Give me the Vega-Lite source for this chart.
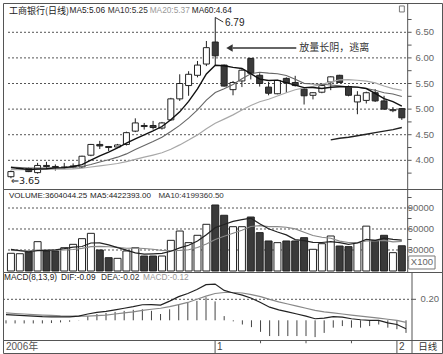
{
"$schema": "https://vega.github.io/schema/vega-lite/v6.json",
"padding": {"left": 2, "top": 2, "right": 0, "bottom": 0},
"background": "white",
"spacing": 0,
"bounds": "flush",
"config": {"view": {"stroke": "#555", "strokeWidth": 1}, "font": "Liberation Sans"},
"datasets": {"k": [
{"i":0,"o":3.68,"h":3.80,"l":3.65,"c":3.78,"v":25300,"m5":3.86,"m10":3.87,"m20":3.818,"m60":null,"vm5":31000,"vm10":29530,"dif":0.055,"dea":0.07,"macd":-0.03},
{"i":1,"o":3.83,"h":3.86,"l":3.82,"c":3.84,"v":24700,"m5":3.84,"m10":3.86,"m20":3.819,"m60":null,"vm5":29000,"vm10":29000,"dif":0.05,"dea":0.065,"macd":-0.03},
{"i":2,"o":3.84,"h":3.86,"l":3.77,"c":3.78,"v":27100,"m5":3.82,"m10":3.85,"m20":3.817,"m60":null,"vm5":27500,"vm10":28710,"dif":0.045,"dea":0.06,"macd":-0.03},
{"i":3,"o":3.76,"h":3.95,"l":3.74,"c":3.90,"v":41900,"m5":3.83,"m10":3.85,"m20":3.821,"m60":null,"vm5":29000,"vm10":29900,"dif":0.04,"dea":0.055,"macd":-0.03},
{"i":4,"o":3.90,"h":3.97,"l":3.83,"c":3.88,"v":28600,"m5":3.836,"m10":3.85,"m20":3.824,"m60":null,"vm5":29520,"vm10":29760,"dif":0.035,"dea":0.05,"macd":-0.03},
{"i":5,"o":3.88,"h":3.92,"l":3.80,"c":3.86,"v":28600,"m5":3.852,"m10":3.85,"m20":3.826,"m60":null,"vm5":30180,"vm10":29620,"dif":0.033,"dea":0.046,"macd":-0.026},
{"i":6,"o":3.86,"h":3.95,"l":3.84,"c":3.87,"v":33300,"m5":3.858,"m10":3.85,"m20":3.829,"m60":null,"vm5":31900,"vm10":29950,"dif":0.032,"dea":0.042,"macd":-0.02},
{"i":7,"o":3.87,"h":3.94,"l":3.84,"c":3.89,"v":38100,"m5":3.88,"m10":3.86,"m20":3.832,"m60":null,"vm5":34100,"vm10":30760,"dif":0.033,"dea":0.04,"macd":-0.014},
{"i":8,"o":3.87,"h":4.09,"l":3.85,"c":4.08,"v":46200,"m5":3.916,"m10":3.88,"m20":3.845,"m60":null,"vm5":34960,"vm10":32380,"dif":0.04,"dea":0.039,"macd":0.002},
{"i":9,"o":4.10,"h":4.32,"l":4.08,"c":4.31,"v":53800,"m5":4.002,"m10":3.919,"m20":3.870,"m60":null,"vm5":40000,"vm10":34760,"dif":0.06,"dea":0.04,"macd":0.04},
{"i":10,"o":4.31,"h":4.38,"l":4.22,"c":4.28,"v":30000,"m5":4.086,"m10":3.969,"m20":3.893,"m60":null,"vm5":40280,"vm10":35230,"dif":0.075,"dea":0.045,"macd":0.06},
{"i":11,"o":4.27,"h":4.28,"l":4.18,"c":4.25,"v":19000,"m5":4.162,"m10":4.010,"m20":3.914,"m60":null,"vm5":37420,"vm10":34660,"dif":0.085,"dea":0.05,"macd":0.07},
{"i":12,"o":4.26,"h":4.32,"l":4.24,"c":4.30,"v":18100,"m5":4.244,"m10":4.062,"m20":3.938,"m60":null,"vm5":33420,"vm10":33760,"dif":0.1,"dea":0.06,"macd":0.08},
{"i":13,"o":4.31,"h":4.56,"l":4.29,"c":4.54,"v":28600,"m5":4.336,"m10":4.126,"m20":3.974,"m60":null,"vm5":29900,"vm10":32430,"dif":0.115,"dea":0.07,"macd":0.09},
{"i":14,"o":4.57,"h":4.82,"l":4.55,"c":4.73,"v":33300,"m5":4.42,"m10":4.211,"m20":4.020,"m60":null,"vm5":25800,"vm10":32900,"dif":0.13,"dea":0.08,"macd":0.10},
{"i":15,"o":4.68,"h":4.73,"l":4.60,"c":4.66,"v":21400,"m5":4.496,"m10":4.291,"m20":4.062,"m60":null,"vm5":24080,"vm10":32180,"dif":0.148,"dea":0.095,"macd":0.105},
{"i":16,"o":4.68,"h":4.77,"l":4.60,"c":4.64,"v":21400,"m5":4.574,"m10":4.368,"m20":4.103,"m60":null,"vm5":24560,"vm10":30990,"dif":0.15,"dea":0.105,"macd":0.09},
{"i":17,"o":4.63,"h":4.75,"l":4.60,"c":4.73,"v":21400,"m5":4.66,"m10":4.452,"m20":4.148,"m60":null,"vm5":25220,"vm10":29320,"dif":0.145,"dea":0.115,"macd":0.06},
{"i":18,"o":4.79,"h":5.22,"l":4.77,"c":5.20,"v":43800,"m5":4.792,"m10":4.564,"m20":4.217,"m60":null,"vm5":28260,"vm10":29080,"dif":0.183,"dea":0.13,"macd":0.105},
{"i":19,"o":5.20,"h":5.68,"l":5.16,"c":5.50,"v":57100,"m5":4.946,"m10":4.683,"m20":4.301,"m60":null,"vm5":33020,"vm10":29410,"dif":0.225,"dea":0.15,"macd":0.15},
{"i":20,"o":5.46,"h":5.74,"l":5.26,"c":5.68,"v":40500,"m5":5.15,"m10":4.823,"m20":4.396,"m60":null,"vm5":36840,"vm10":30460,"dif":0.255,"dea":0.17,"macd":0.17},
{"i":21,"o":5.66,"h":5.94,"l":5.62,"c":5.86,"v":51000,"m5":5.394,"m10":4.984,"m20":4.497,"m60":null,"vm5":42760,"vm10":33660,"dif":0.293,"dea":0.2,"macd":0.185},
{"i":22,"o":5.88,"h":6.33,"l":5.84,"c":6.20,"v":66700,"m5":5.688,"m10":5.174,"m20":4.618,"m60":null,"vm5":51820,"vm10":38520,"dif":0.34,"dea":0.23,"macd":0.22},
{"i":23,"o":6.31,"h":6.79,"l":5.86,"c":6.04,"v":94300,"m5":5.856,"m10":5.324,"m20":4.725,"m60":null,"vm5":61920,"vm10":45090,"dif":0.345,"dea":0.255,"macd":0.18},
{"i":24,"o":5.86,"h":5.87,"l":5.44,"c":5.45,"v":79600,"m5":5.846,"m10":5.396,"m20":4.804,"m60":null,"vm5":66420,"vm10":49720,"dif":0.285,"dea":0.265,"macd":0.04},
{"i":25,"o":5.38,"h":5.55,"l":5.27,"c":5.52,"v":63300,"m5":5.814,"m10":5.482,"m20":4.887,"m60":null,"vm5":70980,"vm10":53910,"dif":0.26,"dea":0.265,"macd":-0.01},
{"i":26,"o":5.55,"h":5.78,"l":5.43,"c":5.76,"v":63300,"m5":5.794,"m10":5.594,"m20":4.981,"m60":null,"vm5":73440,"vm10":58100,"dif":0.24,"dea":0.26,"macd":-0.04},
{"i":27,"o":5.99,"h":6.00,"l":5.58,"c":5.70,"v":77100,"m5":5.694,"m10":5.691,"m20":5.072,"m60":null,"vm5":75520,"vm10":63670,"dif":0.21,"dea":0.245,"macd":-0.065},
{"i":28,"o":5.66,"h":5.70,"l":5.44,"c":5.50,"v":54800,"m5":5.586,"m10":5.721,"m20":5.143,"m60":null,"vm5":67620,"vm10":64770,"dif":0.17,"dea":0.225,"macd":-0.11},
{"i":29,"o":5.43,"h":5.53,"l":5.27,"c":5.31,"v":42900,"m5":5.558,"m10":5.702,"m20":5.193,"m60":null,"vm5":60280,"vm10":63350,"dif":0.125,"dea":0.2,"macd":-0.15},
{"i":30,"o":5.30,"h":5.57,"l":5.29,"c":5.56,"v":40500,"m5":5.566,"m10":5.690,"m20":5.257,"m60":null,"vm5":55720,"vm10":63350,"dif":0.10,"dea":0.175,"macd":-0.15},
{"i":31,"o":5.60,"h":5.62,"l":5.32,"c":5.51,"v":42900,"m5":5.516,"m10":5.655,"m20":5.320,"m60":null,"vm5":51640,"vm10":62540,"dif":0.08,"dea":0.155,"macd":-0.15},
{"i":32,"o":5.52,"h":5.65,"l":5.44,"c":5.46,"v":42900,"m5":5.468,"m10":5.581,"m20":5.378,"m60":null,"vm5":44800,"vm10":60160,"dif":0.06,"dea":0.135,"macd":-0.15},
{"i":33,"o":5.39,"h":5.41,"l":5.09,"c":5.26,"v":47600,"m5":5.42,"m10":5.503,"m20":5.414,"m60":null,"vm5":43360,"vm10":55490,"dif":0.04,"dea":0.115,"macd":-0.15},
{"i":34,"o":5.27,"h":5.33,"l":5.19,"c":5.32,"v":31000,"m5":5.422,"m10":5.490,"m20":5.443,"m60":null,"vm5":40980,"vm10":50630,"dif":0.015,"dea":0.095,"macd":-0.16},
{"i":35,"o":5.33,"h":5.48,"l":5.31,"c":5.46,"v":39000,"m5":5.402,"m10":5.484,"m20":5.483,"m60":null,"vm5":40680,"vm10":48200,"dif":0.02,"dea":0.08,"macd":-0.12},
{"i":36,"o":5.53,"h":5.64,"l":5.37,"c":5.63,"v":50000,"m5":5.426,"m10":5.471,"m20":5.533,"m60":4.40,"vm5":42100,"vm10":46870,"dif":0.035,"dea":0.07,"macd":-0.07},
{"i":37,"o":5.66,"h":5.67,"l":5.51,"c":5.52,"v":35700,"m5":5.438,"m10":5.453,"m20":5.572,"m60":4.43,"vm5":40660,"vm10":42730,"dif":0.03,"dea":0.06,"macd":-0.055},
{"i":38,"o":5.44,"h":5.46,"l":5.25,"c":5.27,"v":34800,"m5":5.44,"m10":5.430,"m20":5.576,"m60":4.45,"vm5":38100,"vm10":40730,"dif":0.015,"dea":0.05,"macd":-0.07},
{"i":39,"o":5.14,"h":5.35,"l":4.90,"c":5.27,"v":40500,"m5":5.43,"m10":5.426,"m20":5.564,"m60":4.48,"vm5":40000,"vm10":40490,"dif":0.005,"dea":0.04,"macd":-0.07},
{"i":40,"o":5.17,"h":5.34,"l":5.11,"c":5.32,"v":64100,"m5":5.402,"m10":5.402,"m20":5.546,"m60":4.51,"vm5":45020,"vm10":42850,"dif":0.0,"dea":0.03,"macd":-0.055},
{"i":41,"o":5.32,"h":5.39,"l":5.14,"c":5.16,"v":43800,"m5":5.308,"m10":5.367,"m20":5.511,"m60":4.54,"vm5":43780,"vm10":42940,"dif":0.0,"dea":0.02,"macd":-0.04},
{"i":42,"o":5.16,"h":5.26,"l":4.99,"c":5.00,"v":51000,"m5":5.204,"m10":5.321,"m20":5.451,"m60":4.57,"vm5":46840,"vm10":43750,"dif":-0.025,"dea":0.01,"macd":-0.07},
{"i":43,"o":4.97,"h":5.04,"l":4.94,"c":4.99,"v":26200,"m5":5.148,"m10":5.294,"m20":5.399,"m60":4.60,"vm5":45120,"vm10":41610,"dif":-0.04,"dea":0.0,"macd":-0.085},
{"i":44,"o":5.01,"h":5.02,"l":4.79,"c":4.83,"v":36040,"m5":5.06,"m10":5.245,"m20":5.368,"m60":4.64,"vm5":44228,"vm10":42114,"dif":-0.08,"dea":-0.02,"macd":-0.12}
]},
"vconcat": [
{
 "width": 439, "height": 186,
 "layer": [
  {"data": {"values": [{}]}, "mark": {"type": "rule", "color": "#555", "strokeDash": [2, 2], "strokeWidth": 1}, "encoding": {"x": {"datum": -0.33, "type": "quantitative", "scale": {"domain": [-0.33, 47.96], "nice": false, "zero": false}, "axis": null}, "x2": {"datum": 44.66}, "y": {"datum": 4.0, "type": "quantitative", "scale": {"domain": [3.44, 7.072], "nice": false, "zero": false}, "axis": null}}},
  {"data": {"values": [{}]}, "mark": {"type": "rule", "color": "#555", "strokeDash": [2, 2], "strokeWidth": 1}, "encoding": {"x": {"datum": -0.33, "type": "quantitative", "axis": null}, "x2": {"datum": 44.66}, "y": {"datum": 4.5, "type": "quantitative", "axis": null}}},
  {"data": {"values": [{}]}, "mark": {"type": "rule", "color": "#555", "strokeDash": [2, 2], "strokeWidth": 1}, "encoding": {"x": {"datum": -0.33, "type": "quantitative", "axis": null}, "x2": {"datum": 44.66}, "y": {"datum": 5.0, "type": "quantitative", "axis": null}}},
  {"data": {"values": [{}]}, "mark": {"type": "rule", "color": "#555", "strokeDash": [2, 2], "strokeWidth": 1}, "encoding": {"x": {"datum": -0.33, "type": "quantitative", "axis": null}, "x2": {"datum": 44.66}, "y": {"datum": 5.5, "type": "quantitative", "axis": null}}},
  {"data": {"values": [{}]}, "mark": {"type": "rule", "color": "#555", "strokeDash": [2, 2], "strokeWidth": 1}, "encoding": {"x": {"datum": -0.33, "type": "quantitative", "axis": null}, "x2": {"datum": 44.66}, "y": {"datum": 6.0, "type": "quantitative", "axis": null}}},
  {"data": {"values": [{}]}, "mark": {"type": "rule", "color": "#555", "strokeDash": [2, 2], "strokeWidth": 1}, "encoding": {"x": {"datum": -0.33, "type": "quantitative", "axis": null}, "x2": {"datum": 44.66}, "y": {"datum": 6.5, "type": "quantitative", "axis": null}}},
  {"data": {"values": [{}]}, "mark": {"type": "rule", "color": "#555"}, "encoding": {"x": {"datum": 44.66, "type": "quantitative", "axis": null}, "y": {"datum": 3.44, "type": "quantitative", "axis": null}, "y2": {"datum": 7.072}}},
  {"data": {"values": [{}]}, "mark": {"type": "rule", "color": "#555"}, "encoding": {"x": {"datum": 44.66, "type": "quantitative", "axis": null}, "x2": {"datum": 45.1}, "y": {"datum": 3.75, "type": "quantitative", "axis": null}}},
  {"data": {"values": [{}]}, "mark": {"type": "rule", "color": "#555"}, "encoding": {"x": {"datum": 44.66, "type": "quantitative", "axis": null}, "x2": {"datum": 45.1}, "y": {"datum": 4.0, "type": "quantitative", "axis": null}}},
  {"data": {"values": [{}]}, "mark": {"type": "rule", "color": "#555"}, "encoding": {"x": {"datum": 44.66, "type": "quantitative", "axis": null}, "x2": {"datum": 45.1}, "y": {"datum": 4.25, "type": "quantitative", "axis": null}}},
  {"data": {"values": [{}]}, "mark": {"type": "rule", "color": "#555"}, "encoding": {"x": {"datum": 44.66, "type": "quantitative", "axis": null}, "x2": {"datum": 45.1}, "y": {"datum": 4.5, "type": "quantitative", "axis": null}}},
  {"data": {"values": [{}]}, "mark": {"type": "rule", "color": "#555"}, "encoding": {"x": {"datum": 44.66, "type": "quantitative", "axis": null}, "x2": {"datum": 45.1}, "y": {"datum": 4.75, "type": "quantitative", "axis": null}}},
  {"data": {"values": [{}]}, "mark": {"type": "rule", "color": "#555"}, "encoding": {"x": {"datum": 44.66, "type": "quantitative", "axis": null}, "x2": {"datum": 45.1}, "y": {"datum": 5.0, "type": "quantitative", "axis": null}}},
  {"data": {"values": [{}]}, "mark": {"type": "rule", "color": "#555"}, "encoding": {"x": {"datum": 44.66, "type": "quantitative", "axis": null}, "x2": {"datum": 45.1}, "y": {"datum": 5.25, "type": "quantitative", "axis": null}}},
  {"data": {"values": [{}]}, "mark": {"type": "rule", "color": "#555"}, "encoding": {"x": {"datum": 44.66, "type": "quantitative", "axis": null}, "x2": {"datum": 45.1}, "y": {"datum": 5.5, "type": "quantitative", "axis": null}}},
  {"data": {"values": [{}]}, "mark": {"type": "rule", "color": "#555"}, "encoding": {"x": {"datum": 44.66, "type": "quantitative", "axis": null}, "x2": {"datum": 45.1}, "y": {"datum": 5.75, "type": "quantitative", "axis": null}}},
  {"data": {"values": [{}]}, "mark": {"type": "rule", "color": "#555"}, "encoding": {"x": {"datum": 44.66, "type": "quantitative", "axis": null}, "x2": {"datum": 45.1}, "y": {"datum": 6.0, "type": "quantitative", "axis": null}}},
  {"data": {"values": [{}]}, "mark": {"type": "rule", "color": "#555"}, "encoding": {"x": {"datum": 44.66, "type": "quantitative", "axis": null}, "x2": {"datum": 45.1}, "y": {"datum": 6.25, "type": "quantitative", "axis": null}}},
  {"data": {"values": [{}]}, "mark": {"type": "rule", "color": "#555"}, "encoding": {"x": {"datum": 44.66, "type": "quantitative", "axis": null}, "x2": {"datum": 45.1}, "y": {"datum": 6.5, "type": "quantitative", "axis": null}}},
  {"data": {"values": [{}]}, "mark": {"type": "rule", "color": "#555"}, "encoding": {"x": {"datum": 44.66, "type": "quantitative", "axis": null}, "x2": {"datum": 45.1}, "y": {"datum": 6.75, "type": "quantitative", "axis": null}}},
  {"data": {"values": [{}]}, "mark": {"type": "text", "text": "4.00", "align": "right", "baseline": "middle", "fontSize": 9.5, "color": "#666"}, "encoding": {"x": {"datum": 47.63, "type": "quantitative", "axis": null}, "y": {"datum": 4.0, "type": "quantitative", "axis": null}}},
  {"data": {"values": [{}]}, "mark": {"type": "text", "text": "4.50", "align": "right", "baseline": "middle", "fontSize": 9.5, "color": "#666"}, "encoding": {"x": {"datum": 47.63, "type": "quantitative", "axis": null}, "y": {"datum": 4.5, "type": "quantitative", "axis": null}}},
  {"data": {"values": [{}]}, "mark": {"type": "text", "text": "5.00", "align": "right", "baseline": "middle", "fontSize": 9.5, "color": "#666"}, "encoding": {"x": {"datum": 47.63, "type": "quantitative", "axis": null}, "y": {"datum": 5.0, "type": "quantitative", "axis": null}}},
  {"data": {"values": [{}]}, "mark": {"type": "text", "text": "5.50", "align": "right", "baseline": "middle", "fontSize": 9.5, "color": "#666"}, "encoding": {"x": {"datum": 47.63, "type": "quantitative", "axis": null}, "y": {"datum": 5.5, "type": "quantitative", "axis": null}}},
  {"data": {"values": [{}]}, "mark": {"type": "text", "text": "6.00", "align": "right", "baseline": "middle", "fontSize": 9.5, "color": "#666"}, "encoding": {"x": {"datum": 47.63, "type": "quantitative", "axis": null}, "y": {"datum": 6.0, "type": "quantitative", "axis": null}}},
  {"data": {"values": [{}]}, "mark": {"type": "text", "text": "6.50", "align": "right", "baseline": "middle", "fontSize": 9.5, "color": "#666"}, "encoding": {"x": {"datum": 47.63, "type": "quantitative", "axis": null}, "y": {"datum": 6.5, "type": "quantitative", "axis": null}}},
  {"data": {"name": "k"}, "mark": {"type": "rule", "color": "#222", "strokeWidth": 1},
   "encoding": {"x": {"field": "i", "type": "quantitative", "scale": {"domain": [-0.33, 47.96], "nice": false, "zero": false}, "axis": null},
    "y": {"field": "l", "type": "quantitative", "scale": {"domain": [3.44, 7.072], "nice": false, "zero": false}, "axis": null}, "y2": {"field": "h"}}},
  {"data": {"name": "k"}, "mark": {"type": "bar", "width": 6, "stroke": "#222", "strokeWidth": 1},
   "encoding": {"x": {"field": "i", "type": "quantitative", "scale": {"domain": [-0.33, 47.96], "nice": false, "zero": false}, "axis": null},
    "y": {"field": "o", "type": "quantitative", "scale": {"domain": [3.44, 7.072], "nice": false, "zero": false}, "axis": null}, "y2": {"field": "c"},
    "fill": {"condition": {"test": "datum.c >= datum.o", "value": "#ffffff"}, "value": "#3a3a3a"}}},
  {"data": {"name": "k"}, "mark": {"type": "line", "color": "#a8a8a8", "strokeWidth": 1.2},
   "encoding": {"x": {"field": "i", "type": "quantitative", "scale": {"domain": [-0.33, 47.96], "nice": false, "zero": false}, "axis": null},
    "y": {"field": "m20", "type": "quantitative", "scale": {"domain": [3.44, 7.072], "nice": false, "zero": false}, "axis": null}}},
  {"data": {"name": "k"}, "mark": {"type": "line", "color": "#666", "strokeWidth": 1.1},
   "encoding": {"x": {"field": "i", "type": "quantitative", "scale": {"domain": [-0.33, 47.96], "nice": false, "zero": false}, "axis": null},
    "y": {"field": "m10", "type": "quantitative", "scale": {"domain": [3.44, 7.072], "nice": false, "zero": false}, "axis": null}}},
  {"data": {"name": "k"}, "mark": {"type": "line", "color": "#111", "strokeWidth": 1.4},
   "encoding": {"x": {"field": "i", "type": "quantitative", "scale": {"domain": [-0.33, 47.96], "nice": false, "zero": false}, "axis": null},
    "y": {"field": "m5", "type": "quantitative", "scale": {"domain": [3.44, 7.072], "nice": false, "zero": false}, "axis": null}}},
  {"data": {"name": "k"}, "mark": {"type": "line", "color": "#222", "strokeWidth": 1.4},
   "encoding": {"x": {"field": "i", "type": "quantitative", "scale": {"domain": [-0.33, 47.96], "nice": false, "zero": false}, "axis": null},
    "y": {"field": "m60", "type": "quantitative", "scale": {"domain": [3.44, 7.072], "nice": false, "zero": false}, "axis": null}}},
  {"data": {"values": [{}]}, "mark": {"type": "text", "text": "工商银行(日线)", "align": "left", "baseline": "middle", "font": "Noto Sans CJK SC", "fontSize": 9, "color": "#222"},
   "encoding": {"x": {"datum": -0.22, "type": "quantitative", "axis": null}, "y": {"datum": 6.916, "type": "quantitative", "axis": null}}},
  {"data": {"values": [{}]}, "mark": {"type": "text", "text": "MA5:5.06", "align": "left", "baseline": "middle", "fontSize": 8.3, "color": "#222"},
   "encoding": {"x": {"datum": 6.6, "type": "quantitative", "axis": null}, "y": {"datum": 6.916, "type": "quantitative", "axis": null}}},
  {"data": {"values": [{}]}, "mark": {"type": "text", "text": "MA10:5.25", "align": "left", "baseline": "middle", "fontSize": 8.3, "color": "#333"},
   "encoding": {"x": {"datum": 10.89, "type": "quantitative", "axis": null}, "y": {"datum": 6.916, "type": "quantitative", "axis": null}}},
  {"data": {"values": [{}]}, "mark": {"type": "text", "text": "MA20:5.37", "align": "left", "baseline": "middle", "fontSize": 8.3, "color": "#999"},
   "encoding": {"x": {"datum": 15.62, "type": "quantitative", "axis": null}, "y": {"datum": 6.916, "type": "quantitative", "axis": null}}},
  {"data": {"values": [{}]}, "mark": {"type": "text", "text": "MA60:4.64", "align": "left", "baseline": "middle", "fontSize": 8.3, "color": "#222"},
   "encoding": {"x": {"datum": 20.35, "type": "quantitative", "axis": null}, "y": {"datum": 6.916, "type": "quantitative", "axis": null}}},
  {"data": {"values": [{}]}, "mark": {"type": "rule", "color": "#333", "strokeWidth": 1},
   "encoding": {"x": {"datum": 23, "type": "quantitative", "axis": null}, "x2": {"datum": 23.9}, "y": {"datum": 6.79, "type": "quantitative", "axis": null}, "y2": {"datum": 6.70}}},
  {"data": {"values": [{}]}, "mark": {"type": "text", "text": "6.79", "align": "left", "baseline": "middle", "fontSize": 10, "color": "#222"},
   "encoding": {"x": {"datum": 24.1, "type": "quantitative", "axis": null}, "y": {"datum": 6.69, "type": "quantitative", "axis": null}}},
  {"data": {"values": [{}]}, "mark": {"type": "text", "text": "⇐3.65", "align": "left", "baseline": "middle", "font": "DejaVu Sans, Liberation Sans", "fontSize": 9.5, "color": "#222"},
   "encoding": {"x": {"datum": 0, "type": "quantitative", "axis": null}, "y": {"datum": 3.596, "type": "quantitative", "axis": null}}},
  {"data": {"values": [{}]}, "mark": {"type": "rule", "color": "#333", "strokeWidth": 1.5},
   "encoding": {"x": {"datum": 24.97, "type": "quantitative", "axis": null}, "x2": {"datum": 32.12}, "y": {"datum": 6.193, "type": "quantitative", "axis": null}}},
  {"data": {"values": [{}]}, "mark": {"type": "point", "shape": "triangle-left", "filled": true, "size": 55, "color": "#333", "opacity": 1},
   "encoding": {"x": {"datum": 24.6, "type": "quantitative", "axis": null}, "y": {"datum": 6.193, "type": "quantitative", "axis": null}}},
  {"data": {"values": [{}]}, "mark": {"type": "text", "text": "放量长阴，逃离", "align": "left", "baseline": "middle", "font": "Noto Sans CJK SC", "fontSize": 10, "color": "#333"},
   "encoding": {"x": {"datum": 32.45, "type": "quantitative", "axis": null}, "y": {"datum": 6.193, "type": "quantitative", "axis": null}}},
  {"data": {"values": [{}]}, "mark": {"type": "rect", "fill": "#ffffff", "stroke": "#777", "strokeWidth": 1},
   "encoding": {"x": {"datum": 43.73, "type": "quantitative", "axis": null}, "x2": {"datum": 44.28}, "y": {"datum": 7.014, "type": "quantitative", "axis": null}, "y2": {"datum": 6.897}}}
 ]
},
{
 "width": 439, "height": 83,
 "layer": [
  {"data": {"values": [{}]}, "mark": {"type": "rule", "color": "#555", "strokeDash": [2, 2], "strokeWidth": 1}, "encoding": {"x": {"datum": -0.33, "type": "quantitative", "scale": {"domain": [-0.33, 47.96], "nice": false, "zero": false}, "axis": null}, "x2": {"datum": 44.66}, "y": {"datum": 30000, "type": "quantitative", "scale": {"domain": [-1429, 117143], "nice": false, "zero": false}, "axis": null}}},
  {"data": {"values": [{}]}, "mark": {"type": "rule", "color": "#555", "strokeDash": [2, 2], "strokeWidth": 1}, "encoding": {"x": {"datum": -0.33, "type": "quantitative", "axis": null}, "x2": {"datum": 44.66}, "y": {"datum": 60000, "type": "quantitative", "axis": null}}},
  {"data": {"values": [{}]}, "mark": {"type": "rule", "color": "#555", "strokeDash": [2, 2], "strokeWidth": 1}, "encoding": {"x": {"datum": -0.33, "type": "quantitative", "axis": null}, "x2": {"datum": 44.66}, "y": {"datum": 90000, "type": "quantitative", "axis": null}}},
  {"data": {"name": "k"}, "mark": {"type": "bar", "width": 7, "stroke": "#222", "strokeWidth": 1},
   "encoding": {"x": {"field": "i", "type": "quantitative", "scale": {"domain": [-0.33, 47.96], "nice": false, "zero": false}, "axis": null},
    "y": {"field": "v", "type": "quantitative", "scale": {"domain": [-1429, 117143], "nice": false, "zero": false}, "axis": null}, "y2": {"datum": 0},
    "fill": {"condition": {"test": "datum.c >= datum.o", "value": "#ffffff"}, "value": "#3a3a3a"}}},
  {"data": {"values": [{}]}, "mark": {"type": "rule", "color": "#555"}, "encoding": {"x": {"datum": 44.66, "type": "quantitative", "axis": null}, "y": {"datum": -1429, "type": "quantitative", "axis": null}, "y2": {"datum": 117143}}},
  {"data": {"values": [{}]}, "mark": {"type": "rule", "color": "#555"}, "encoding": {"x": {"datum": 44.66, "type": "quantitative", "axis": null}, "x2": {"datum": 45.1}, "y": {"datum": 15000, "type": "quantitative", "axis": null}}},
  {"data": {"values": [{}]}, "mark": {"type": "rule", "color": "#555"}, "encoding": {"x": {"datum": 44.66, "type": "quantitative", "axis": null}, "x2": {"datum": 45.1}, "y": {"datum": 30000, "type": "quantitative", "axis": null}}},
  {"data": {"values": [{}]}, "mark": {"type": "rule", "color": "#555"}, "encoding": {"x": {"datum": 44.66, "type": "quantitative", "axis": null}, "x2": {"datum": 45.1}, "y": {"datum": 45000, "type": "quantitative", "axis": null}}},
  {"data": {"values": [{}]}, "mark": {"type": "rule", "color": "#555"}, "encoding": {"x": {"datum": 44.66, "type": "quantitative", "axis": null}, "x2": {"datum": 45.1}, "y": {"datum": 60000, "type": "quantitative", "axis": null}}},
  {"data": {"values": [{}]}, "mark": {"type": "rule", "color": "#555"}, "encoding": {"x": {"datum": 44.66, "type": "quantitative", "axis": null}, "x2": {"datum": 45.1}, "y": {"datum": 75000, "type": "quantitative", "axis": null}}},
  {"data": {"values": [{}]}, "mark": {"type": "rule", "color": "#555"}, "encoding": {"x": {"datum": 44.66, "type": "quantitative", "axis": null}, "x2": {"datum": 45.1}, "y": {"datum": 90000, "type": "quantitative", "axis": null}}},
  {"data": {"values": [{}]}, "mark": {"type": "rule", "color": "#555"}, "encoding": {"x": {"datum": 44.66, "type": "quantitative", "axis": null}, "x2": {"datum": 45.1}, "y": {"datum": 105000, "type": "quantitative", "axis": null}}},
  {"data": {"values": [{}]}, "mark": {"type": "text", "text": "30000", "align": "right", "baseline": "middle", "fontSize": 9.5, "color": "#666"}, "encoding": {"x": {"datum": 47.63, "type": "quantitative", "axis": null}, "y": {"datum": 30000, "type": "quantitative", "axis": null}}},
  {"data": {"values": [{}]}, "mark": {"type": "text", "text": "60000", "align": "right", "baseline": "middle", "fontSize": 9.5, "color": "#666"}, "encoding": {"x": {"datum": 47.63, "type": "quantitative", "axis": null}, "y": {"datum": 60000, "type": "quantitative", "axis": null}}},
  {"data": {"values": [{}]}, "mark": {"type": "text", "text": "90000", "align": "right", "baseline": "middle", "fontSize": 9.5, "color": "#666"}, "encoding": {"x": {"datum": 47.63, "type": "quantitative", "axis": null}, "y": {"datum": 90000, "type": "quantitative", "axis": null}}},
  {"data": {"name": "k"}, "mark": {"type": "line", "color": "#888", "strokeWidth": 1.1},
   "encoding": {"x": {"field": "i", "type": "quantitative", "scale": {"domain": [-0.33, 47.96], "nice": false, "zero": false}, "axis": null},
    "y": {"field": "vm10", "type": "quantitative", "scale": {"domain": [-1429, 117143], "nice": false, "zero": false}, "axis": null}}},
  {"data": {"name": "k"}, "mark": {"type": "line", "color": "#222", "strokeWidth": 1.2},
   "encoding": {"x": {"field": "i", "type": "quantitative", "scale": {"domain": [-0.33, 47.96], "nice": false, "zero": false}, "axis": null},
    "y": {"field": "vm5", "type": "quantitative", "scale": {"domain": [-1429, 117143], "nice": false, "zero": false}, "axis": null}}},
  {"data": {"values": [{}]}, "mark": {"type": "text", "text": "VOLUME:3604044.25", "align": "left", "baseline": "middle", "fontSize": 8, "color": "#222"},
   "encoding": {"x": {"datum": -0.22, "type": "quantitative", "axis": null}, "y": {"datum": 107143, "type": "quantitative", "axis": null}}},
  {"data": {"values": [{}]}, "mark": {"type": "text", "text": "MA5:4422393.00", "align": "left", "baseline": "middle", "fontSize": 8, "color": "#222"},
   "encoding": {"x": {"datum": 8.9, "type": "quantitative", "axis": null}, "y": {"datum": 107143, "type": "quantitative", "axis": null}}},
  {"data": {"values": [{}]}, "mark": {"type": "text", "text": "MA10:4199360.50", "align": "left", "baseline": "middle", "fontSize": 8, "color": "#333"},
   "encoding": {"x": {"datum": 16.6, "type": "quantitative", "axis": null}, "y": {"datum": 107143, "type": "quantitative", "axis": null}}},
  {"data": {"values": [{}]}, "mark": {"type": "rect", "fill": "#ffffff", "stroke": "#777", "strokeWidth": 1},
   "encoding": {"x": {"datum": 44.77, "type": "quantitative", "axis": null}, "x2": {"datum": 47.74}, "y": {"datum": 2857, "type": "quantitative", "axis": null}, "y2": {"datum": 21429}}},
  {"data": {"values": [{}]}, "mark": {"type": "text", "text": "X100", "align": "center", "baseline": "middle", "fontSize": 9.5, "color": "#666"},
   "encoding": {"x": {"datum": 46.26, "type": "quantitative", "axis": null}, "y": {"datum": 12143, "type": "quantitative", "axis": null}}}
 ]
},
{
 "width": 439, "height": 68,
 "layer": [
  {"data": {"values": [{}]}, "mark": {"type": "rule", "color": "#555", "strokeDash": [2, 2], "strokeWidth": 1}, "encoding": {"x": {"datum": -0.33, "type": "quantitative", "scale": {"domain": [-0.33, 47.96], "nice": false, "zero": false}, "axis": null}, "x2": {"datum": 44.66}, "y": {"datum": 0.2, "type": "quantitative", "scale": {"domain": [-0.1876, 0.46], "nice": false, "zero": false}, "axis": null}}},
  {"data": {"name": "k"}, "mark": {"type": "rule", "color": "#444", "strokeWidth": 1},
   "encoding": {"x": {"field": "i", "type": "quantitative", "scale": {"domain": [-0.33, 47.96], "nice": false, "zero": false}, "axis": null},
    "y": {"field": "macd", "type": "quantitative", "scale": {"domain": [-0.1876, 0.46], "nice": false, "zero": false}, "axis": null}, "y2": {"datum": 0}}},
  {"data": {"values": [{}]}, "mark": {"type": "rule", "color": "#555"}, "encoding": {"x": {"datum": 44.66, "type": "quantitative", "axis": null}, "y": {"datum": -0.1876, "type": "quantitative", "axis": null}, "y2": {"datum": 0.46}}},
  {"data": {"values": [{}]}, "mark": {"type": "rule", "color": "#555"}, "encoding": {"x": {"datum": 44.66, "type": "quantitative", "axis": null}, "x2": {"datum": 45.1}, "y": {"datum": 0.2, "type": "quantitative", "axis": null}}},
  {"data": {"values": [{}]}, "mark": {"type": "text", "text": "0.20", "align": "right", "baseline": "middle", "fontSize": 9.5, "color": "#666"}, "encoding": {"x": {"datum": 47.63, "type": "quantitative", "axis": null}, "y": {"datum": 0.2, "type": "quantitative", "axis": null}}},
  {"data": {"name": "k"}, "mark": {"type": "line", "color": "#888", "strokeWidth": 1.2},
   "encoding": {"x": {"field": "i", "type": "quantitative", "scale": {"domain": [-0.33, 47.96], "nice": false, "zero": false}, "axis": null},
    "y": {"field": "dea", "type": "quantitative", "scale": {"domain": [-0.1876, 0.46], "nice": false, "zero": false}, "axis": null}}},
  {"data": {"name": "k"}, "mark": {"type": "line", "color": "#222", "strokeWidth": 1.2},
   "encoding": {"x": {"field": "i", "type": "quantitative", "scale": {"domain": [-0.33, 47.96], "nice": false, "zero": false}, "axis": null},
    "y": {"field": "dif", "type": "quantitative", "scale": {"domain": [-0.1876, 0.46], "nice": false, "zero": false}, "axis": null}}},
  {"data": {"values": [{}]}, "mark": {"type": "text", "text": "MACD(8,13,9)", "align": "left", "baseline": "middle", "fontSize": 8.3, "color": "#222"},
   "encoding": {"x": {"datum": -0.22, "type": "quantitative", "axis": null}, "y": {"datum": 0.40, "type": "quantitative", "axis": null}}},
  {"data": {"values": [{}]}, "mark": {"type": "text", "text": "DIF:-0.09", "align": "left", "baseline": "middle", "fontSize": 8.3, "color": "#222"},
   "encoding": {"x": {"datum": 6.05, "type": "quantitative", "axis": null}, "y": {"datum": 0.40, "type": "quantitative", "axis": null}}},
  {"data": {"values": [{}]}, "mark": {"type": "text", "text": "DEA:-0.02", "align": "left", "baseline": "middle", "fontSize": 8.3, "color": "#333"},
   "encoding": {"x": {"datum": 10.45, "type": "quantitative", "axis": null}, "y": {"datum": 0.40, "type": "quantitative", "axis": null}}},
  {"data": {"values": [{}]}, "mark": {"type": "text", "text": "MACD:-0.12", "align": "left", "baseline": "middle", "fontSize": 8.3, "color": "#999"},
   "encoding": {"x": {"datum": 15.07, "type": "quantitative", "axis": null}, "y": {"datum": 0.40, "type": "quantitative", "axis": null}}}
 ]
},
{
 "width": 439, "height": 13,
 "layer": [
  {"data": {"values": [{"i": 23, "t": "1"}, {"i": 43, "t": "2"}]},
   "mark": {"type": "rule", "color": "#555", "strokeWidth": 1},
   "encoding": {"x": {"field": "i", "type": "quantitative", "scale": {"domain": [-0.33, 47.96], "nice": false, "zero": false}, "axis": null},
    "y": {"datum": 0, "type": "quantitative", "scale": {"domain": [0, 1], "nice": false, "zero": false}, "axis": null}, "y2": {"datum": 1}}},
  {"data": {"values": [{"i": 23, "t": "1"}, {"i": 43, "t": "2"}]},
   "mark": {"type": "text", "align": "left", "baseline": "middle", "dx": 2, "fontSize": 10, "color": "#444"},
   "encoding": {"x": {"field": "i", "type": "quantitative", "scale": {"domain": [-0.33, 47.96], "nice": false, "zero": false}, "axis": null},
    "y": {"datum": 0.45, "type": "quantitative", "scale": {"domain": [0, 1], "nice": false, "zero": false}, "axis": null}, "text": {"field": "t"}}},
  {"data": {"values": [{"i": 28}, {"i": 33}, {"i": 38}]},
   "mark": {"type": "rule", "color": "#555", "strokeWidth": 1},
   "encoding": {"x": {"field": "i", "type": "quantitative", "scale": {"domain": [-0.33, 47.96], "nice": false, "zero": false}, "axis": null},
    "y": {"datum": 1, "type": "quantitative", "scale": {"domain": [0, 1], "nice": false, "zero": false}, "axis": null}, "y2": {"datum": 0.75}}},
  {"data": {"values": [{}]}, "mark": {"type": "rule", "color": "#555", "strokeWidth": 1},
   "encoding": {"x": {"datum": 44.66, "type": "quantitative", "axis": null}, "y": {"datum": 0, "type": "quantitative", "axis": null}, "y2": {"datum": 1}}},
  {"data": {"values": [{}]}, "mark": {"type": "text", "text": "2006年", "align": "left", "baseline": "middle", "font": "Liberation Sans, Noto Sans CJK SC", "fontSize": 10, "color": "#555"},
   "encoding": {"x": {"datum": 0, "type": "quantitative", "axis": null}, "y": {"datum": 0.45, "type": "quantitative", "axis": null}}},
  {"data": {"values": [{}]}, "mark": {"type": "text", "text": "日线", "align": "center", "baseline": "middle", "font": "Noto Sans CJK SC", "fontSize": 9.5, "color": "#333"},
   "encoding": {"x": {"datum": 46.4, "type": "quantitative", "axis": null}, "y": {"datum": 0.45, "type": "quantitative", "axis": null}}}
 ]
}
]
}
